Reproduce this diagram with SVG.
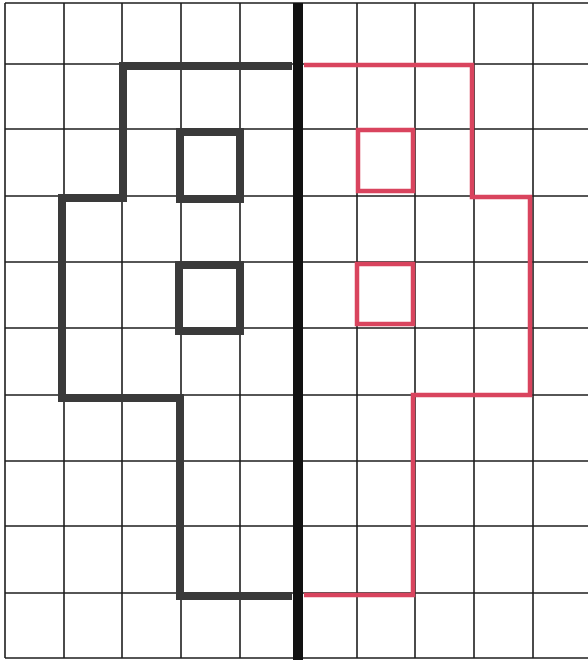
<svg xmlns="http://www.w3.org/2000/svg" width="588" height="660" viewBox="0 0 588 660">
<style>
.grid{stroke:#1e1e1e;stroke-width:1.6;fill:none}
.blk{stroke:#3a3a3a;stroke-width:8;fill:none;stroke-linejoin:miter}
.red{stroke:#d9445e;stroke-width:4.5;fill:none;stroke-linejoin:miter}
</style>
<rect x="0" y="0" width="588" height="660" fill="#ffffff"/>
<g id="grid">
<line class="grid" x1="5" y1="3" x2="5" y2="658"/>
<line class="grid" x1="64" y1="3" x2="64" y2="658"/>
<line class="grid" x1="122" y1="3" x2="122" y2="658"/>
<line class="grid" x1="181" y1="3" x2="181" y2="658"/>
<line class="grid" x1="240" y1="3" x2="240" y2="658"/>
<line class="grid" x1="357" y1="3" x2="357" y2="658"/>
<line class="grid" x1="415" y1="3" x2="415" y2="658"/>
<line class="grid" x1="474" y1="3" x2="474" y2="658"/>
<line class="grid" x1="533" y1="3" x2="533" y2="658"/>
<line class="grid" x1="5" y1="3" x2="588" y2="3"/>
<line class="grid" x1="5" y1="64" x2="588" y2="64"/>
<line class="grid" x1="5" y1="129" x2="588" y2="129"/>
<line class="grid" x1="5" y1="196" x2="588" y2="196"/>
<line class="grid" x1="5" y1="262" x2="588" y2="262"/>
<line class="grid" x1="5" y1="328" x2="588" y2="328"/>
<line class="grid" x1="5" y1="395" x2="588" y2="395"/>
<line class="grid" x1="5" y1="461" x2="588" y2="461"/>
<line class="grid" x1="5" y1="526" x2="588" y2="526"/>
<line class="grid" x1="5" y1="593" x2="588" y2="593"/>
<line class="grid" x1="5" y1="658" x2="588" y2="658"/>
</g>
<g id="black-half">
<polyline class="blk" points="292,66 123,66 123,198 62,198 62,398 180,398 180,596 292,596"/>
<rect class="blk" x="180" y="132" width="60" height="67"/>
<rect class="blk" x="179" y="265" width="61" height="66"/>
</g>
<g id="red-half">
<polyline class="red" points="304,65 472,65 472,197 530,197 530,395 413,395 413,595 304,595"/>
<rect class="red" x="358" y="130" width="55" height="61"/>
<rect class="red" x="357" y="264" width="56" height="60"/>
</g>
<g id="axis">
<line x1="298" y1="3" x2="298" y2="660" stroke="#111111" stroke-width="10"/>
</g>
</svg>
